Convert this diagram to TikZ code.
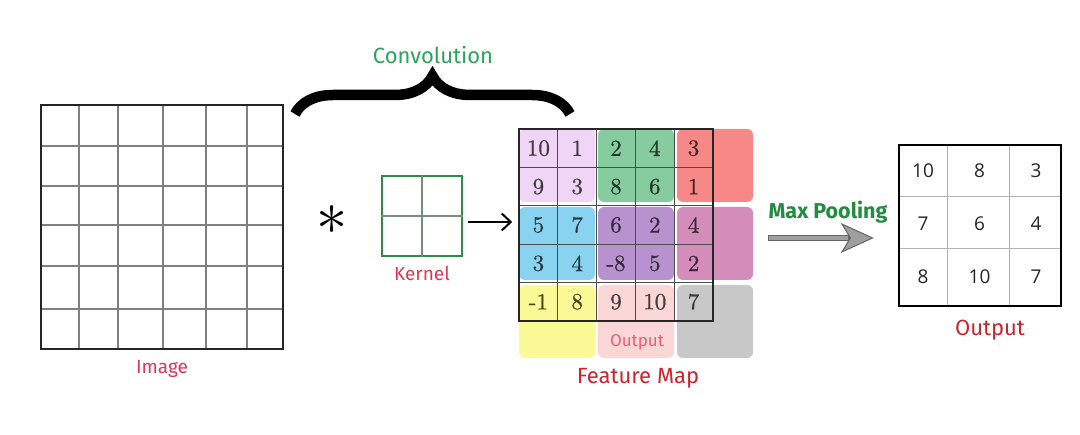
\documentclass[tikz,border=0pt]{standalone}
\usepackage{fontspec}
\setsansfont{Fira Sans}
\newfontfamily\numfont{Open Sans}
\newfontfamily\fmfont{lmroman10-regular.otf}[FakeBold=0.7]
\usetikzlibrary{arrows.meta,positioning,calc,decorations.pathreplacing}
\definecolor{LabRed}{RGB}{222,55,85}
\definecolor{MapRed}{RGB}{205,35,45}
\definecolor{OutPink}{RGB}{232,95,120}
\definecolor{ConvGreen}{RGB}{40,165,90}
\definecolor{PoolGreen}{RGB}{35,140,65}
\definecolor{KernGreen}{RGB}{45,140,70}
\definecolor{fm00}{RGB}{240,213,246}
\definecolor{fm10}{RGB}{135,204,158}
\definecolor{fm20}{RGB}{246,136,136}
\definecolor{fm01}{RGB}{137,210,240}
\definecolor{fm11}{RGB}{183,146,206}
\definecolor{fm21}{RGB}{212,141,186}
\definecolor{fm02}{RGB}{251,249,150}
\definecolor{fm12}{RGB}{250,214,214}
\definecolor{fm22}{RGB}{200,200,200}
\tikzset{
  lab/.style={font=\sffamily\fontsize{19}{21}\selectfont,text=LabRed,inner sep=1pt},
  biglab/.style={font=\sffamily\fontsize{22}{24}\selectfont,text=MapRed,inner sep=1pt},
  gridbox/.style={draw=black!85,line width=1.6pt,inner sep=0pt},
  thingrid/.style={draw=black!50,line width=1.1pt},
  kernbox/.style={draw=KernGreen,line width=1.6pt,minimum size=80pt,inner sep=0pt},
  fmnum/.style={font=\fmfont\fontsize{23}{23}\selectfont,inner sep=0pt},
  outnum/.style={font=\numfont\fontsize{19}{19}\selectfont,text=black!85,inner sep=0pt},
  convarrow/.style={-{Straight Barb[length=9pt,width=17pt,line width=2pt]},line width=2.2pt},
  convbrace/.style={decorate,decoration={brace,amplitude=38pt},line width=10.5pt},
}

\begin{document}
\begin{tikzpicture}[x=1pt,y=-1pt,>=Stealth]
  \useasboundingbox (0,0) rectangle (1080,435);
  % input image
  \foreach \gx in {79,118,163,206,247} \draw[thingrid] (\gx,105) -- (\gx,349);
  \foreach \gy in {146,186,225,266,309} \draw[thingrid] (41,\gy) -- (283,\gy);
  \node[gridbox,minimum width=242pt,minimum height=244pt] (img) at (162,227) {};
  \node[lab,below=9pt of img] (imglab) {Image};
  % convolution brace
  \draw[convbrace] (295,114) -- (570,114);
  \node[font=\sffamily\fontsize{22}{24}\selectfont,text=ConvGreen] (convlab) at (433,55) {Convolution};
  \node[inner sep=0pt] (asterisk) at (332,220) {\scalebox{2.5}{\fontsize{24}{24}\selectfont$\ast$}};
  % kernel
  \node[kernbox] (kern) at (422,216) {};
  \draw[KernGreen!50!black!60,line width=1.1pt] (kern.north) -- (kern.south) (kern.west) -- (kern.east);
  \node[lab,below=8pt of kern] (kernlab) {Kernel};
  % feature map
  \foreach \bi in {0,1,2}
    \foreach \bj in {0,1,2}
      \fill[fm\bi\bj,rounded corners=6pt] (519+\bi*79,129+\bj*78) rectangle ++(76,73);
  \foreach \k in {1,...,4} {
    \draw[black!70,line width=1pt] (519+\k*38.8,129) -- (519+\k*38.8,321);
    \draw[black!70,line width=1pt] (519,129+\k*38.4) -- (713,129+\k*38.4);
  }
  \node[gridbox,minimum width=194pt,minimum height=192pt] (fmap) at (616,225) {};
  \foreach \row [count=\r] in {{10,1,2,4,3},{9,3,8,6,1},{5,7,6,2,4},{3,4,-8,5,2},{-1,8,9,10,7}}
    \foreach \v [count=\c] in \row {
      \pgfmathtruncatemacro\bi{(\c-1)/2}
      \pgfmathtruncatemacro\bj{(\r-1)/2}
      \node[fmnum,text=fm\bi\bj!28!black] (f\r\c) at (519+\c*38.8-19.4,129+\r*38.4-19.2) {\v};
    }
  \node[font=\sffamily\fontsize{17}{19}\selectfont,text=OutPink] (fmout) at (637,342) {Output};
  \node[biglab] (fmlab) at (638,378) {Feature Map};
  \draw[convarrow] ([yshift=-6pt,xshift=5pt]kern.east) -- ([yshift=-6pt,xshift=-6pt]kern.east -| fmap.west);
  % max pooling
  \foreach \gx in {947,1009} \draw[black!30,line width=1pt] (\gx,145) -- (\gx,306);
  \foreach \gy in {197,249} \draw[black!30,line width=1pt] (899,\gy) -- (1061,\gy);
  \node[gridbox,draw=black,line width=2.4pt,minimum width=162pt,minimum height=161pt] (pool) at (980,225.5) {};
  \foreach \row [count=\r] in {{10,8,3},{7,6,4},{8,10,7}}
    \foreach \v [count=\c] in \row {
      \node[outnum] (o\r\c) at ({899+24+(\c-1)*56.5},{145+26+(\r-1)*53}) {\v};
    }
  \node[biglab] (poollab) at (990,330) {Output};
  \node[font=\sffamily\bfseries\fontsize{21.5}{23}\selectfont,text=PoolGreen] (mplab) at (828,212) {Max Pooling};
  \coordinate (mp0) at (768,238);
  \draw[-{Stealth[length=33pt,width=30pt,inset=9pt,fill=gray!75,line width=1pt]},line width=6pt,black!60,shorten >=24pt] (mp0) -- (mp0 -| pool.west);
  \draw[line width=3.6pt,gray!75,shorten >=50pt,shorten <=1.2pt] (mp0) -- (mp0 -| pool.west);
\end{tikzpicture}
\end{document}
